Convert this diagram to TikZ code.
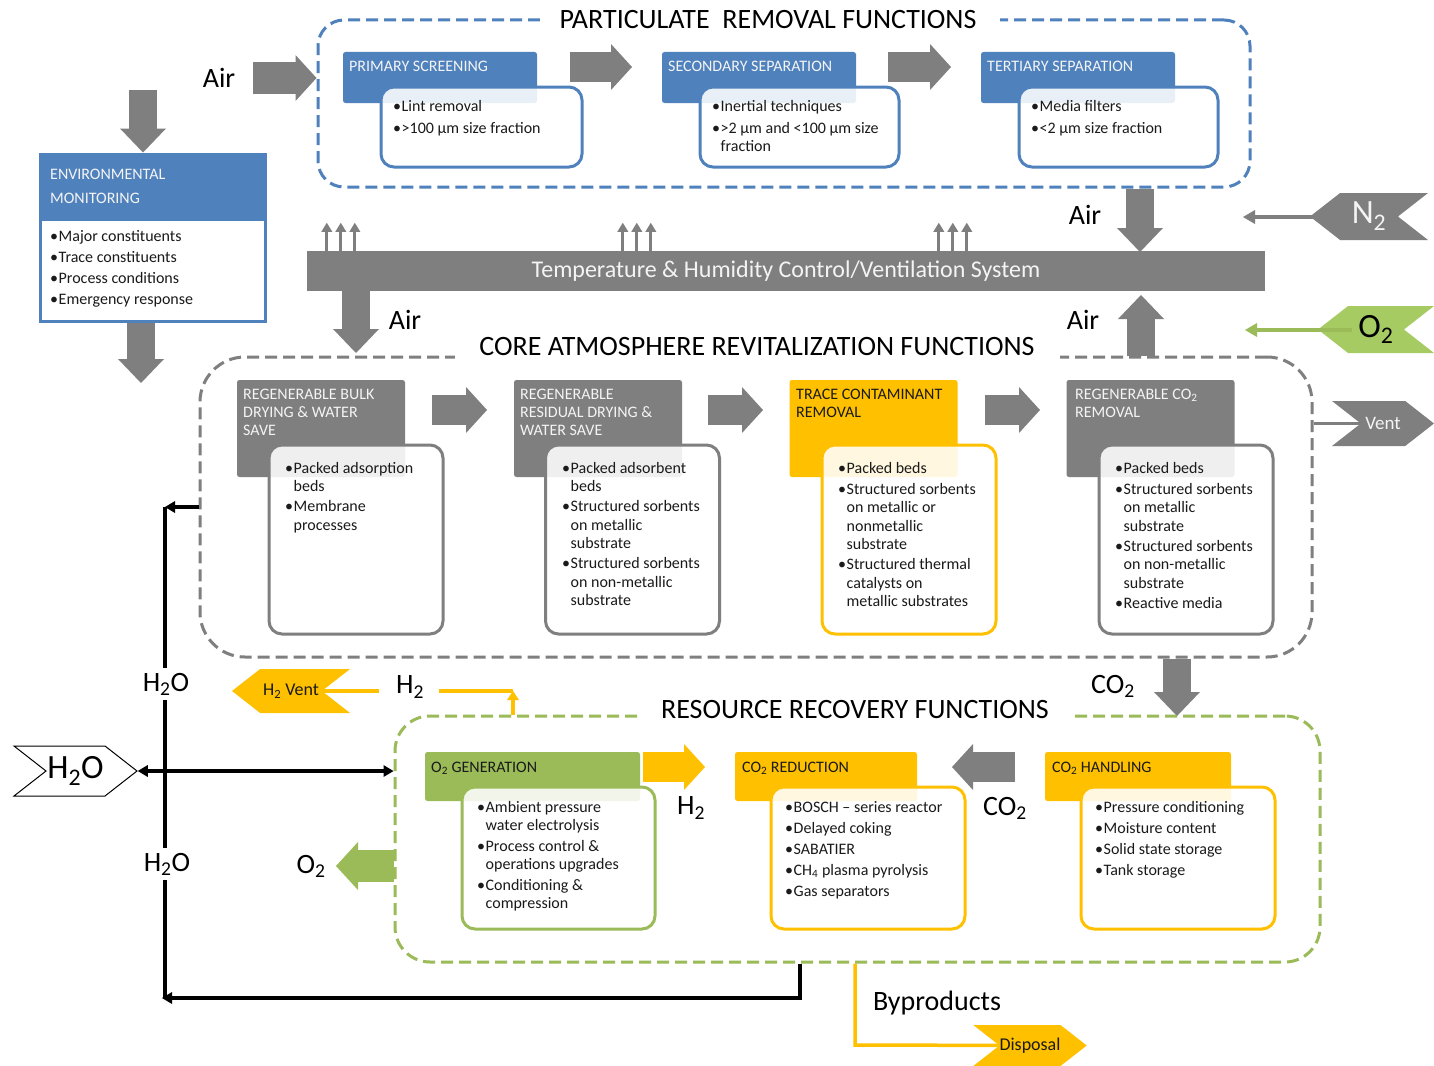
\documentclass[tikz,border=0pt]{standalone}
\usepackage{fontspec}
\setmainfont{Carlito}
\usetikzlibrary{arrows.meta,shapes.symbols,calc}
\pgfdeclarelayer{background}
\pgfdeclarelayer{canvas}
\pgfsetlayers{canvas,background,main}
\definecolor{cblue}{HTML}{4F81BD}
\definecolor{cgray}{HTML}{7F7F7F}
\definecolor{corange}{HTML}{FFC000}
\definecolor{cgreen}{HTML}{9BBB59}
\definecolor{cgreenL}{HTML}{A6CB63}
\definecolor{ctext}{HTML}{1A1A1A}
\definecolor{cwtext}{HTML}{F4F4F4}
\newcommand{\fsz}[2]{\fontsize{#1}{#2}\selectfont}
\newcommand{\bl}{\makebox[8.5pt][l]{•}}
\newcommand{\cn}{\hspace*{8.5pt}}
\newcommand{\sbs}[1]{\textsubscript{#1}}
\tikzset{
  dbox/.style={draw=#1, line width=3pt, dash pattern=on 12pt off 6pt, rectangle, inner sep=0pt},
  hdr/.style={fill=#1, rounded corners=2.5pt, rectangle, inner sep=0pt},
  bodyb/.style={draw=#1, line width=3pt, fill=white, fill opacity=0.88, rounded corners=13pt, rectangle, inner sep=0pt},
  htext/.style={inner sep=0pt, font=\fsz{16}{18}, text=#1, align=left},
  btext/.style={inner sep=0pt, text=ctext, align=left},
  ttl/.style={inner sep=0pt, font=\fsz{28}{32}, text=black},
  lbl/.style={inner sep=5pt, font=\fsz{28}{32}, text=black},
  gapw/.style={fill=white, inner sep=0pt, minimum height=10pt},
  bigarr/.style={draw=#1, line width=30pt, -{Triangle[width=46pt,length=21pt,line width=0pt]}},
  vbig/.style={draw=cgray, line width=28pt, -{Triangle[width=46pt,length=24pt,line width=0pt]}},
  smarr/.style={draw=cgray, line width=3pt, -{Triangle[width=11pt,length=9pt,line width=0pt]}},
  tharr/.style={draw=#1, line width=4pt, -{Triangle[width=14pt,length=12pt,line width=0pt]}},
  blkline/.style={draw=black, line width=3.5pt},
  btip/.style={-{Triangle[width=12pt,length=10pt,line width=0pt]}},
  orline/.style={draw=corange, line width=3.5pt},
  chev/.style={signal, inner sep=0pt, signal pointer angle=76},
}
\begin{document}
\begin{tikzpicture}[x=1pt,y=-1pt]
\begin{pgfonlayer}{canvas}
\fill[white] (0,0) rectangle (1434,1065);
\end{pgfonlayer}
\useasboundingbox (0,0) rectangle (1434,1065);

% ---------- dashed containers ----------
\node[dbox=cblue, rounded corners=26pt, minimum width=932pt, minimum height=167pt] (part) at (784,103.5) {};
\node[dbox=cgray, rounded corners=45pt, minimum width=1112pt, minimum height=300pt] (core) at (756,507) {};
\node[dbox=cgreen, rounded corners=35pt, minimum width=925pt, minimum height=246pt] (res) at (857.5,839) {};
\node[gapw, minimum width=460pt] (partgap) at (770,20) {};
\node[gapw, minimum width=605pt] (coregap) at (757.5,357) {};
\node[gapw, minimum width=435pt] (resgap) at (857.5,716) {};
\node[ttl] (partT) at (768,20) {PARTICULATE\ \ REMOVAL FUNCTIONS};
\node[ttl] (coreT) at (757,347) {CORE ATMOSPHERE REVITALIZATION FUNCTIONS};
\node[ttl] (resT) at (855,710) {RESOURCE RECOVERY FUNCTIONS};

% ---------- particulate removal ----------
\node[hdr=cblue, minimum width=194pt, minimum height=51pt] (ps) at (440,77.5) {};
\node[bodyb=cblue, minimum width=201pt, minimum height=80pt] (psb) at (481.5,127) {};
\node[htext=cwtext, anchor=base west] (pst) at (349,71) {PRIMARY SCREENING};
\node[btext, font=\fsz{16}{18}, anchor=north west] (psx) at (393,98.4) {\strut\bl Lint removal\\[4pt]\bl >100 µm size fraction};

\node[hdr=cblue, minimum width=194pt, minimum height=51pt] (ss) at (759,77.5) {};
\node[bodyb=cblue, minimum width=199pt, minimum height=80pt] (ssb) at (799.5,127) {};
\node[htext=cwtext, anchor=base west] (sst) at (668,71) {SECONDARY SEPARATION};
\node[btext, font=\fsz{16}{18}, anchor=north west] (ssx) at (712,98.4) {\strut\bl Inertial techniques\\[4pt]\bl >2 µm and <100 µm size\\\cn fraction};

\node[hdr=cblue, minimum width=194pt, minimum height=51pt] (ts) at (1078,77.5) {};
\node[bodyb=cblue, minimum width=199pt, minimum height=80pt] (tsb) at (1118.5,127) {};
\node[htext=cwtext, anchor=base west] (tst) at (987,71) {TERTIARY SEPARATION};
\node[btext, font=\fsz{16}{18}, anchor=north west] (tsx) at (1031,98.4) {\strut\bl Media filters\\[4pt]\bl <2 µm size fraction};

\coordinate (pa1s) at (570,67); \coordinate (pa1e) at (632,67);
\coordinate (pa2s) at (888,67); \coordinate (pa2e) at (951,67);
\draw[bigarr=cgray] (pa1s) -- (pa1e);
\draw[bigarr=cgray] (pa2s) -- (pa2e);

\node[lbl] (airA) at (219,78) {Air};
\coordinate (airAs) at (253,78);
\draw[bigarr=cgray, line width=31pt] (airAs) -- (part.west |- airAs);

% ---------- environmental monitoring ----------
\node[fill=cblue, minimum width=225pt, minimum height=67pt, inner sep=0pt] (envh) at (152.5,187.5) {};
\node[draw=cblue, line width=3pt, minimum width=225pt, minimum height=167pt, inner sep=0pt] (env) at (152.5,237.5) {};
\node[htext=cwtext, font=\fsz{16}{24}, anchor=north west] (envt) at (50,162.2) {\strut ENVIRONMENTAL\\MONITORING};
\node[btext, font=\fsz{16}{21}, anchor=north west] (envx) at (50,226.3) {\strut\bl Major constituents\\\bl Trace constituents\\\bl Process conditions\\\bl Emergency response};
\coordinate (e1s) at (143,90);
\draw[vbig] (e1s) -- (env.north -| e1s);
\coordinate (e2e) at (141,383);
\draw[vbig] (env.south -| e2e) -- (e2e);

% ---------- ventilation bar ----------
\node[fill=cgray, minimum width=958pt, minimum height=40pt, inner sep=0pt, text=cwtext, font=\fsz{24}{28}] (bar) at (786,271) {Temperature \& Humidity Control/Ventilation System};
\foreach \xx in {327,341,355,623,637,651,939,953,967}
  \draw[smarr] ($(bar.north west)+(\xx-307,0)$) -- ++(0,-28);

\node[lbl] (airB) at (405,320) {Air};
\coordinate (airBe) at (356,353);
\draw[vbig] (bar.south -| airBe) -- (airBe);
\node[lbl] (airC) at (1085,215) {Air};
\coordinate (airCx) at (1140,252);
\draw[vbig] (part.south -| airCx) -- (airCx);
\node[lbl] (airD) at (1083,320) {Air};
\coordinate (airDx) at (1141,295);
\draw[vbig] (core.north -| airDx) -- (airDx);

% ---------- N2 / O2 / Vent ----------
\node[chev, signal to=west, signal from=east, fill=cgray, minimum width=118pt, minimum height=47pt, text=cwtext, font=\fsz{34}{40}] (n2) at (1369,216.5) {N\sbs{2}};
\coordinate (n2s) at (1345,217); \coordinate (n2e) at (1243,217);
\draw[tharr=cgray] (n2s) -- (n2e);
\node[chev, signal to=west, signal from=east, fill=cgreenL, minimum width=116pt, minimum height=47pt, text=black, font=\fsz{34}{40}] (o2) at (1376,329.5) {O\sbs{2}};
\coordinate (o2s) at (1352,330); \coordinate (o2e) at (1245,330);
\draw[tharr=cgreen] (o2s) -- (o2e);
\node[chev, signal to=east, signal from=west, fill=cgray, minimum width=102pt, minimum height=45pt, text=cwtext, font=\fsz{19}{22}] (vent) at (1383,423.5) {Vent};
\begin{pgfonlayer}{background}
\draw[cgray, line width=3pt] (core.east |- vent) -- (vent.center);
\end{pgfonlayer}

% ---------- core functions ----------
\node[hdr=cgray, minimum width=168pt, minimum height=97pt] (c1) at (321,428.5) {};
\node[bodyb=cgray, minimum width=174pt, minimum height=189pt] (c1b) at (356,539.5) {};
\node[htext=cwtext, anchor=north west] (c1t) at (243,386.4) {\strut REGENERABLE BULK\\DRYING \& WATER\\SAVE};
\node[btext, font=\fsz{16}{18.5}, anchor=north west] (c1x) at (285,460) {\strut\bl Packed adsorption\\\cn beds\\[1.5pt]\bl Membrane\\\cn processes};

\node[hdr=cgray, minimum width=168pt, minimum height=97pt] (c2) at (598,428.5) {};
\node[bodyb=cgray, minimum width=174pt, minimum height=189pt] (c2b) at (632.5,539.5) {};
\node[htext=cwtext, anchor=north west] (c2t) at (520,386.4) {\strut REGENERABLE\\RESIDUAL DRYING \&\\WATER SAVE};
\node[btext, font=\fsz{16}{18.5}, anchor=north west] (c2x) at (562,460) {\strut\bl Packed adsorbent\\\cn beds\\[1.5pt]\bl Structured sorbents\\\cn on metallic\\\cn substrate\\[1.5pt]\bl Structured sorbents\\\cn on non-metallic\\\cn substrate};

\node[hdr=corange, minimum width=168pt, minimum height=97pt] (c3) at (873.5,428.5) {};
\node[bodyb=corange, minimum width=174pt, minimum height=189pt] (c3b) at (909,539.5) {};
\node[htext=ctext, anchor=north west] (c3t) at (796,386.4) {\strut TRACE CONTAMINANT\\REMOVAL};
\node[btext, font=\fsz{16}{18.5}, anchor=north west] (c3x) at (838,460) {\strut\bl Packed beds\\[2.5pt]\bl Structured sorbents\\\cn on metallic or\\\cn nonmetallic\\\cn substrate\\[1.5pt]\bl Structured thermal\\\cn catalysts on\\\cn metallic substrates};

\node[hdr=cgray, minimum width=168pt, minimum height=97pt] (c4) at (1150.5,428.5) {};
\node[bodyb=cgray, minimum width=174pt, minimum height=189pt] (c4b) at (1186,539.5) {};
\node[htext=cwtext, anchor=north west] (c4t) at (1075,386.4) {\strut REGENERABLE CO\sbs{2}\\REMOVAL};
\node[btext, font=\fsz{16}{18.5}, anchor=north west] (c4x) at (1115,460) {\strut\bl Packed beds\\[2.5pt]\bl Structured sorbents\\\cn on metallic\\\cn substrate\\[1.5pt]\bl Structured sorbents\\\cn on non-metallic\\\cn substrate\\[1.5pt]\bl Reactive media};

\coordinate (ca1s) at (432,410); \coordinate (ca1e) at (487,410);
\coordinate (ca2s) at (708,410); \coordinate (ca2e) at (763,410);
\coordinate (ca3s) at (985,410); \coordinate (ca3e) at (1040,410);
\draw[bigarr=cgray] (ca1s) -- (ca1e);
\draw[bigarr=cgray] (ca2s) -- (ca2e);
\draw[bigarr=cgray] (ca3s) -- (ca3e);

\node[lbl] (co2a) at (1113,686) {CO\sbs{2}};
\coordinate (co2x) at (1177,716);
\draw[vbig] (core.south -| co2x) -- (co2x);

% ---------- resource recovery ----------
\node[hdr=cgreen, minimum width=215pt, minimum height=49pt] (r1) at (532.5,776.5) {};
\node[bodyb=cgreen, minimum width=193pt, minimum height=142pt] (r1b) at (558.5,858) {};
\node[htext=ctext, anchor=base west] (r1t) at (431,772) {O\sbs{2} GENERATION};
\node[btext, font=\fsz{16}{18}, anchor=north west] (r1x) at (477,799.4) {\strut\bl Ambient pressure\\\cn water electrolysis\\[3pt]\bl Process control \&\\\cn operations upgrades\\[3pt]\bl Conditioning \&\\\cn compression};

\node[hdr=corange, minimum width=182pt, minimum height=49pt] (r2) at (826,776.5) {};
\node[bodyb=corange, minimum width=194pt, minimum height=142pt] (r2b) at (868,858) {};
\node[htext=ctext, anchor=base west] (r2t) at (742,772) {CO\sbs{2} REDUCTION};
\node[btext, font=\fsz{16}{18}, anchor=north west] (r2x) at (785,799.4) {\strut\bl BOSCH – series reactor\\[3pt]\bl Delayed coking\\[3pt]\bl SABATIER\\[3pt]\bl CH\sbs{4} plasma pyrolysis\\[3pt]\bl Gas separators};

\node[hdr=corange, minimum width=186pt, minimum height=49pt] (r3) at (1138,776.5) {};
\node[bodyb=corange, minimum width=194pt, minimum height=142pt] (r3b) at (1178,858) {};
\node[htext=ctext, anchor=base west] (r3t) at (1052,772) {CO\sbs{2} HANDLING};
\node[btext, font=\fsz{16}{18}, anchor=north west] (r3x) at (1095,799.4) {\strut\bl Pressure conditioning\\[3pt]\bl Moisture content\\[3pt]\bl Solid state storage\\[3pt]\bl Tank storage};

\coordinate (ra1s) at (643,767); \coordinate (ra1e) at (705,767);
\draw[bigarr=corange] (ra1s) -- (ra1e);
\node[lbl] (h2b) at (691,808) {H\sbs{2}};
\coordinate (ra2s) at (1015,767); \coordinate (ra2e) at (952,767);
\draw[bigarr=cgray] (ra2s) -- (ra2e);
\node[lbl] (co2b) at (1005,808) {CO\sbs{2}};
\coordinate (o2ax) at (336,866);
\draw[bigarr=cgreen, line width=32pt, -{Triangle[width=48pt,length=22pt,line width=0pt]}] (res.west |- o2ax) -- (o2ax);
\node[lbl] (o2lab) at (311,866) {O\sbs{2}};

% ---------- water loop ----------
\node[chev, signal to=east, signal from=west, draw=black, line width=1pt, fill=white, minimum width=123pt, minimum height=50pt, font=\fsz{34}{40}] (h2oc) at (75.5,771) {H\sbs{2}O};
\node[lbl] (w1) at (166,684) {H\sbs{2}O};
\node[lbl] (w2) at (167,864) {H\sbs{2}O};
\coordinate (wL) at (165,507);
\coordinate (bL) at (162,998);
\coordinate (bR) at (800,998);
\draw[blkline, btip] (core.west) -- (wL);
\draw[blkline] (wL) -- (wL |- w1.north);
\draw[blkline] (wL |- w1.south) -- (wL |- w2.north);
\draw[blkline] (wL |- w2.south) -- (wL |- bL);
\draw[blkline, btip] (res.south -| bR) -- (bR) -- (bL);
\draw[blkline, {Triangle[width=12pt,length=10pt,line width=0pt]}-{Triangle[width=12pt,length=10pt,line width=0pt]}] (h2oc.east) -- (res.west |- h2oc.east);

% ---------- hydrogen vent ----------
\node[chev, signal to=west, signal from=east, fill=corange, minimum width=118pt, minimum height=44pt, font=\fsz{18}{22}, text=ctext] (h2v) at (291,691) {H\sbs{2} Vent};
\node[lbl] (h2a) at (410,687) {H\sbs{2}};
\coordinate (h2c) at (513,691);
\begin{pgfonlayer}{background}
\draw[orline, shorten >=12pt] (h2v.center) -- (h2a.west |- h2c);
\end{pgfonlayer}
\draw[orline, shorten <=10pt] (h2a.east |- h2c) -- (h2c);
\draw[orline, -{Triangle[width=12pt,length=9pt,line width=0pt]}] (res.north -| h2c) -- (h2c);

% ---------- byproducts ----------
\node[chev, signal to=east, signal from=west, fill=corange, minimum width=112pt, minimum height=41pt, font=\fsz{18}{22}, text=ctext] (disp) at (1030,1045.5) {Disposal};
\node[lbl] (byp) at (937,1003) {Byproducts};
\coordinate (byc) at (855,1045);
\begin{pgfonlayer}{background}
\draw[orline] (res.south -| byc) -- (byc) -- (disp.center);
\end{pgfonlayer}
\end{tikzpicture}
\end{document}
